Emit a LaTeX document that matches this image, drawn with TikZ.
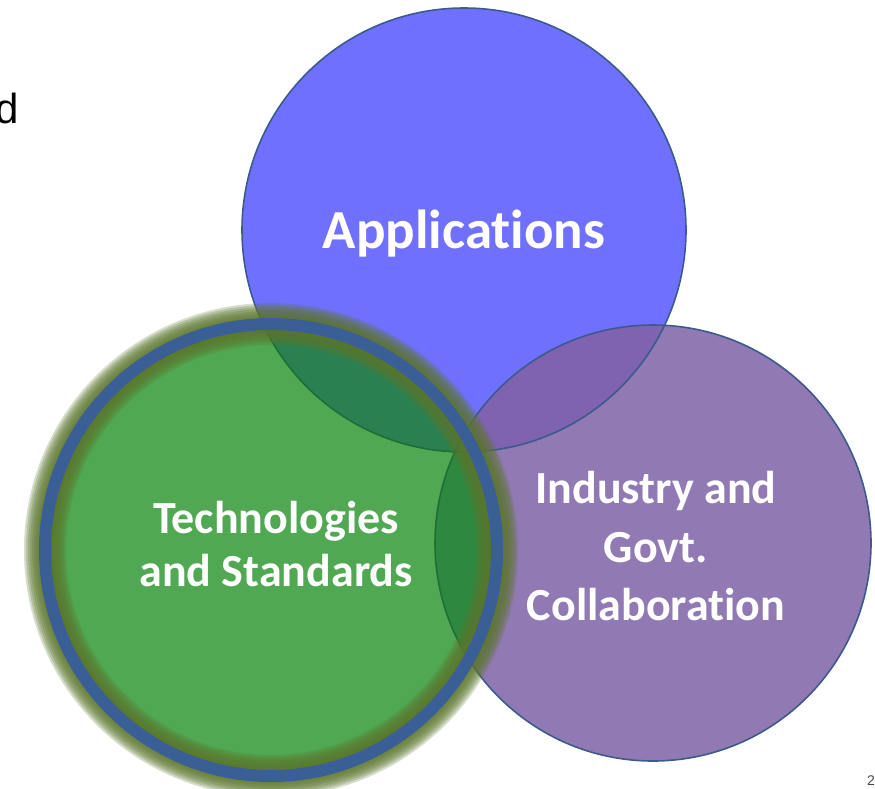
\documentclass[tikz,border=0pt]{standalone}
\usepackage{fontspec}
\newfontfamily\carlbold{Carlito}[BoldFont={* Bold}, RawFeature={-liga;-clig;-dlig}]
\newfontfamily\libsans{Liberation Sans}
\definecolor{appfill}{RGB}{112,112,255}
\definecolor{edgeblue}{RGB}{60,90,140}
\definecolor{purplefill}{RGB}{145,121,180}
\definecolor{bpfill}{RGB}{127,98,176}
\definecolor{greenfill}{RGB}{80,168,82}
\definecolor{gbfill}{RGB}{42,128,80}
\definecolor{gpfill}{RGB}{46,136,64}
\definecolor{darkgreenline}{RGB}{30,110,55}
\definecolor{ringblue}{RGB}{58,94,150}
\definecolor{glowolive}{RGB}{92,118,45}
\tikzset{
  bigtext/.style={text=white, font=\carlbold\bfseries\fontsize{55}{62}\selectfont, inner sep=0pt, anchor=base},
  midtext/.style={text=white, font=\carlbold\bfseries\fontsize{46}{53}\selectfont, inner sep=0pt, anchor=base},
}
\begin{document}
\begin{tikzpicture}[x=1pt,y=-1pt]
\useasboundingbox (0,0) rectangle (875,788);
\coordinate (A) at (464,230);
\coordinate (P) at (653,543);
\coordinate (G) at (271,550);
% Applications circle
\fill[appfill] (A) circle (222);
% Industry circle
\fill[purplefill] (P) circle (218);
\begin{scope}
  \clip (A) circle (222);
  \fill[bpfill] (P) circle (218);
\end{scope}
\draw[edgeblue, line width=1.6] (A) circle (222);
\draw[edgeblue, line width=1.6] (P) circle (218);
% Technologies circle
\fill[greenfill] (G) circle (226);
\begin{scope}
  \clip (G) circle (226);
  \fill[gbfill] (A) circle (222);
  \fill[gpfill] (P) circle (218);
  \draw[darkgreenline, line width=1.6] (A) circle (222);
  \draw[darkgreenline, line width=1.6] (P) circle (218);
\end{scope}
\foreach \w in {14,18,...,42} {
  \draw[glowolive, opacity=0.26, line width=\w] (G) circle (226);
}
\draw[ringblue, line width=12] (G) circle (226);
% texts
\node[bigtext] (app) at (464,248) {Applications};
\node[midtext] (tech1) at (276,533) {Technologies};
\node[midtext] (tech2) at (276,586) {and Standards};
\node[midtext] (ind1) at (656,503) {Industry and};
\node[midtext] (ind2) at (656,562) {Govt.};
\node[midtext] (ind3) at (656,620) {Collaboration};
\node[font=\libsans\fontsize{42}{48}\selectfont, inner sep=0pt, anchor=base east] (dletter) at (19,123) {d};
\node[font=\libsans\fontsize{14}{16}\selectfont, text={rgb,255:red,70;green,70;blue,70}, inner sep=0pt, anchor=base west] (pagenum) at (867,785) {2};
\end{tikzpicture}
\end{document}
